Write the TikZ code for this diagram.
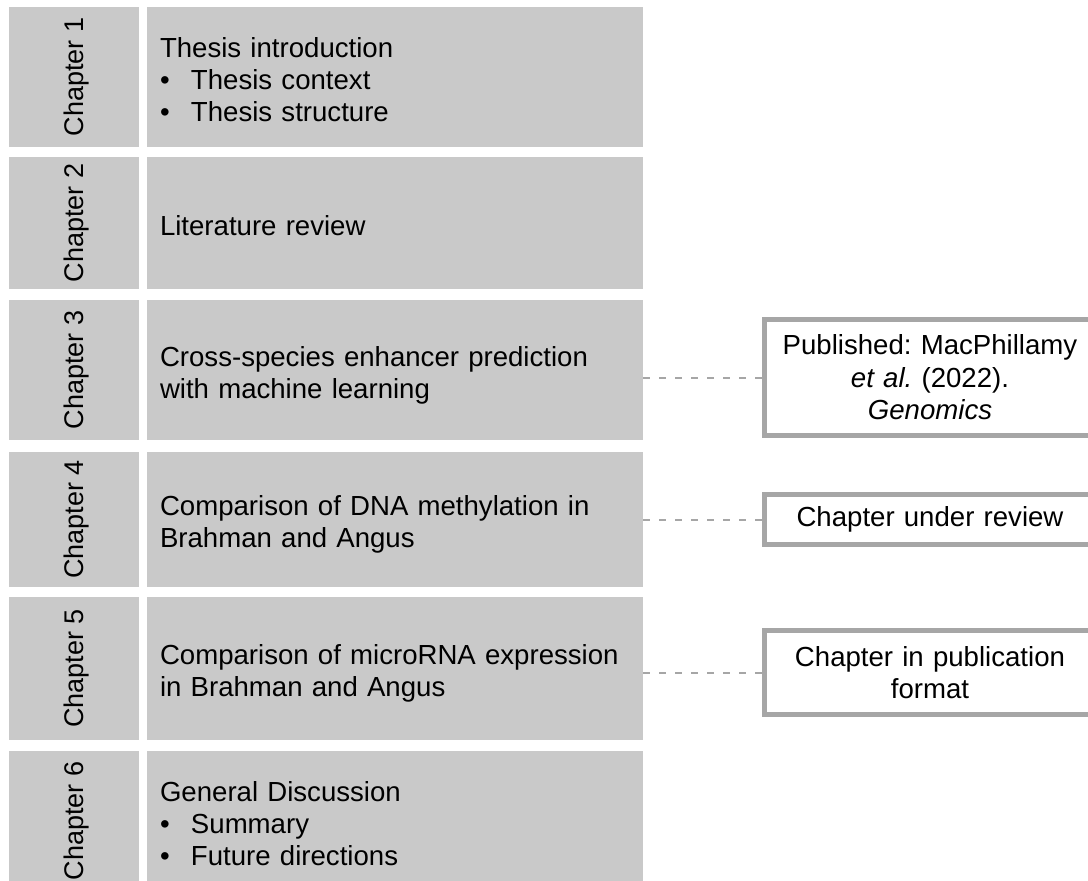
\documentclass[tikz,border=0pt]{standalone}
\usepackage{fontspec}
\setmainfont{Liberation Sans}
\frenchspacing
\definecolor{boxgray}{RGB}{201,201,201}
\definecolor{rulegray}{RGB}{166,166,166}
\newcommand{\bul}[1]{\makebox[31pt][l]{\textbullet}#1}

\begin{document}
\begin{tikzpicture}[x=1pt,y=-1pt]
      \tikzset { chap/.style = { shape=rectangle,fill=boxgray,rotate=90,inner sep=0,minimum height=130,text height=19,text depth=0,font=\fontsize{27}{32}\selectfont } }
      \tikzset { block/.style = { shape=rectangle,fill=boxgray,minimum width=496,text width=470,inner xsep=13,inner ysep=0,align=left,font=\fontsize{27.6}{32}\selectfont,
                                  execute at begin node={\rule{0pt}{30pt}},execute at end node={\rule[-6pt]{0pt}{6pt}} } }
      \tikzset { note/.style = { shape=rectangle,draw=rulegray,line width=5,fill=white,minimum width=331,text width=320,inner sep=0,align=center,font=\fontsize{27.6}{32.5}\selectfont } }
      \tikzset { link/.style = { draw=rulegray,line width=2,dash pattern=on 7pt off 9pt } }

      \clip (0,0) rectangle (1088,881);

      \node[chap,minimum width=140] (c1) at (74,77) {Chapter 1};
      \node[chap,minimum width=132] (c2) at (74,223) {Chapter 2};
      \node[chap,minimum width=140] (c3) at (74,370) {Chapter 3};
      \node[chap,minimum width=135] (c4) at (74,519.5) {Chapter 4};
      \node[chap,minimum width=143] (c5) at (74,668.5) {Chapter 5};
      \node[chap,minimum width=140] (c6) at (74,821) {Chapter 6};

      \node[block,minimum height=140] (b1) at (395,77) {Thesis introduction\\ \bul{Thesis context}\\ \bul{Thesis structure}};
      \node[block,minimum height=132] (b2) at (395,223) {Literature review};
      \node[block,minimum height=140] (b3) at (395,370) {Cross-species enhancer prediction\\ with machine learning};
      \node[block,minimum height=135] (b4) at (395,519.5) {Comparison of DNA methylation in\\ Brahman and Angus};
      \node[block,minimum height=143] (b5) at (395,668.5) {Comparison of microRNA expression\\ in Brahman and Angus};
      \node[block,minimum height=140] (b6) at (395,821) {General Discussion\\ \bul{Summary}\\ \bul{Future directions}};

      \node[note,minimum height=116] (n3) at (930,377.5) {Published: MacPhillamy\\ \textit{et al.} (2022).\\ \textit{Genomics}};
      \node[note,minimum height=50] (n4) at (930,519.5) {Chapter under review};
      \node[note,minimum height=84] (n5) at (930,672.5) {Chapter in publication\\ format};

      \draw[link] (b3.east |- n3.west) to (n3.west);
      \draw[link] (b4.east |- n4.west) to (n4.west);
      \draw[link] (b5.east |- n5.west) to (n5.west);

    \end{tikzpicture}
\end{document}
